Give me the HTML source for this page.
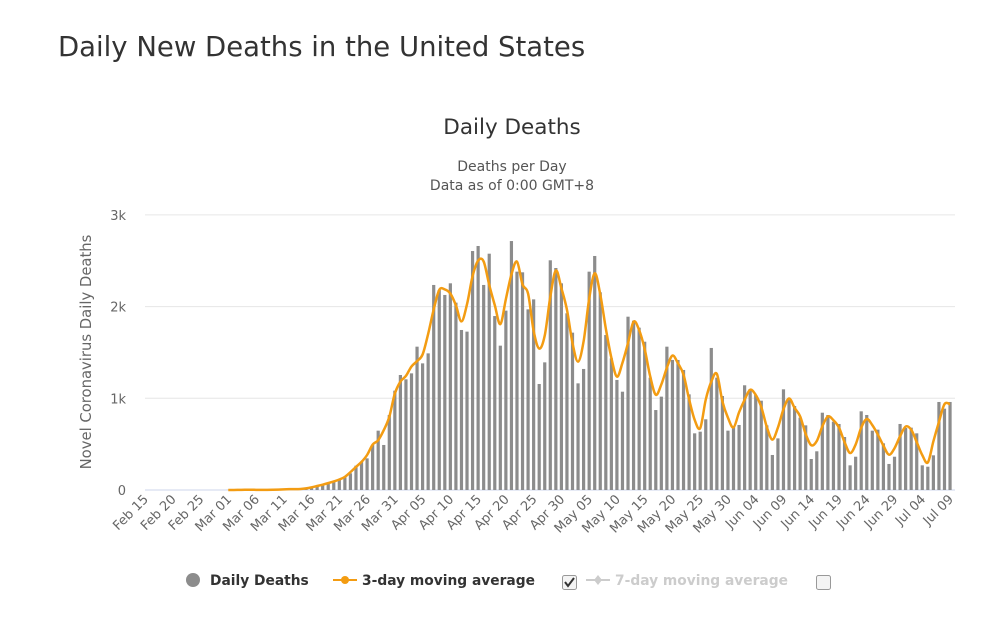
<!DOCTYPE html>
<html><head><meta charset="utf-8"><style>
body{margin:0;width:1000px;height:618px;background:#fff;overflow:hidden;font-family:"DejaVu Sans",sans-serif;}
h1{position:absolute;left:58px;top:31px;margin:0;font-weight:normal;font-size:27.5px;color:#333;}
</style></head><body>
<h1>Daily New Deaths in the United States</h1>
<svg id="s" width="1000" height="618" style="position:absolute;left:0;top:0" xmlns="http://www.w3.org/2000/svg" font-family="DejaVu Sans, sans-serif"></svg>
<script>
var early=[0,0,0,0,0,0,0,0,0,0,0,0,0,0,0,1,0,1,4,3,2,1,2,3,4,7,11,9,10,12,30,45,55,75,95,110];
var rest=[138,182,265,309,345,491,647,491,818,1083,1254,1207,1272,1563,1381,1490,2236,2181,2127,2254,2043,1745,1727,2606,2661,2236,2577,1897,1574,1956,2715,2381,2374,1970,2079,1156,1392,2505,2421,2254,1927,1716,1163,1320,2381,2552,2156,1690,1436,1200,1072,1890,
1846,1770,1617,1225,872,1018,1563,1418,1418,1309,1043,618,636,771,1549,1225,1025,647,691,709,1142,1101,1036,974,705,382,563,1098,981,916,789,705,338,422,843,818,745,720,578,269,363,858,818,647,658,509,284,363,720,676,680,618,269,254,378,960,887,960];
var d=early.concat(rest);
var X=function(i){return 145+i*5.552}, Y=function(v){return 490-v*0.0917};
var o='';
[0,1,2,3].forEach(function(k){var y=Y(k*1000);o+='<line x1="145" x2="955" y1="'+y+'" y2="'+y+'" stroke="'+(k?'#e6e6e6':'#ccd6eb')+'"/>';
o+='<text x="126" y="'+(y+5)+'" text-anchor="end" font-size="13" fill="#666">'+(k?k+'k':'0')+'</text>';});
o+='<text transform="translate(91,352) rotate(-90)" text-anchor="middle" font-size="14.8" fill="#666">Novel Coronavirus Daily Deaths</text>';
o+='<text x="512" y="134" text-anchor="middle" font-size="21.5" fill="#333">Daily Deaths</text>';
o+='<text x="512" y="171" text-anchor="middle" font-size="14" fill="#555">Deaths per Day</text>';
o+='<text x="512" y="190" text-anchor="middle" font-size="14" fill="#555">Data as of 0:00 GMT+8</text>';
for(var i=0;i<d.length;i++){if(d[i]>0){var h=d[i]*0.0917;o+='<rect x="'+(X(i)-1.6)+'" y="'+(490-h)+'" width="3.2" height="'+h+'" fill="#8c8c8c"/>';}}
var mon=['Jan','Feb','Mar','Apr','May','Jun','Jul'],dim=[31,29,31,30,31,30,31];
for(var i=0;i<=145;i+=5){var day=15+i,m=1;while(day>dim[m]){day-=dim[m];m++;}
var lab=mon[m]+' '+(day<10?'0':'')+day;
o+='<text transform="translate('+(X(i)+4)+',500) rotate(-45)" text-anchor="end" font-size="13" fill="#666">'+lab+'</text>';}
var p=[];for(var i=15;i<d.length;i++){var a=(d[i-1]+d[i]+(i+1<d.length?d[i+1]:d[i]))/3;if(i==d.length-1)a=(d[i-1]+d[i]+d[i-2])/3;p.push([X(i),Y(a)]);}
var s='M'+p[0][0]+','+p[0][1];
for(var i=0;i<p.length-1;i++){var p0=p[Math.max(0,i-1)],p1=p[i],p2=p[i+1],p3=p[Math.min(p.length-1,i+2)];
s+=' C'+(p1[0]+(p2[0]-p0[0])/6)+','+(p1[1]+(p2[1]-p0[1])/6)+' '+(p2[0]-(p3[0]-p1[0])/6)+','+(p2[1]-(p3[1]-p1[1])/6)+' '+p2[0]+','+p2[1];}
o+='<path d="'+s+'" fill="none" stroke="#f39c12" stroke-width="2.5"/>';
o+='<circle cx="193" cy="580" r="7" fill="#8c8c8c"/><text x="210" y="585" font-size="13.8" font-weight="bold" fill="#333">Daily Deaths</text>';
o+='<line x1="333" x2="357" y1="580" y2="580" stroke="#f39c12" stroke-width="2"/><circle cx="345" cy="580" r="4" fill="#f39c12"/><text x="362" y="585" font-size="13.8" font-weight="bold" fill="#333">3-day moving average</text>';
o+='<rect x="562.5" y="575.5" width="14" height="14" rx="2" fill="#f4f4f4" stroke="#999"/><path d="M565,582 l3,4 l6,-8" fill="none" stroke="#333" stroke-width="2"/>';
o+='<line x1="586" x2="610" y1="580" y2="580" stroke="#ccc" stroke-width="2"/><path d="M598,575 l4,5 l-4,5 l-4,-5z" fill="#ccc"/><text x="615" y="585" font-size="13.8" font-weight="bold" fill="#ccc">7-day moving average</text>';
o+='<rect x="816.5" y="575.5" width="14" height="14" rx="2" fill="#f4f4f4" stroke="#999"/>';
document.getElementById('s').innerHTML=o;
</script>
</body></html>
